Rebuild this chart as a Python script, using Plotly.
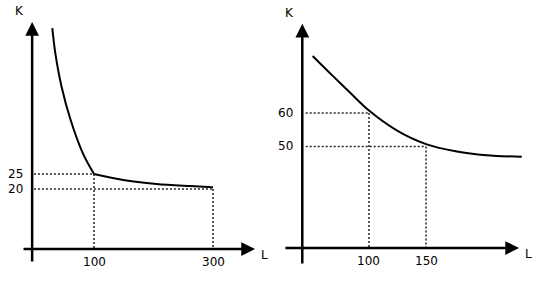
import plotly.graph_objects as go

# ---------------- data ----------------
# Left panel: kinked isoquant (L on x, K on y)
left_steep_L = [29.9, 35.0, 45.5, 60.7, 81.3, 100]
left_steep_K = [73.6, 65.2, 54.1, 43.0, 31.9, 25.0]
left_flat_L = [100, 149, 205, 261, 300]
left_flat_K = [25.0, 23.0, 21.7, 21.0, 20.6]
left_guide_L = [100, 300]
left_guide_K = [25, 20]
left_tick_L_text = ["100", "300"]
left_tick_K_text = ["25", "20"]

# Right panel: smooth isoquant
right_L = [50.6, 68.7, 83.3, 100, 124.3, 150, 177, 203, 234]
right_K = [77.0, 70.9, 66.1, 60.7, 54.8, 50.7, 48.5, 47.4, 46.9]
right_guide_L = [100, 150]
right_guide_K = [60, 50]
right_tick_L_text = ["100", "150"]
right_tick_K_text = ["60", "50"]

axis_title_x = "L"
axis_title_y = "K"

# ---------------- layout geometry ----------------
panels = [
    dict(xa="x", ya="y", origin=(-4.0, 0.0), xext=(-21.0, 370.6), yext=(-4.7, 75.7),
         xrange=[-58.0, 398.3], yrange=[-12.0, 83.0], dom=[0.0, 0.5]),
    dict(xa="x2", ya="y2", origin=(41.5, 19.7), xext=(25.4, 231.6), yext=(14.6, 86.6),
         xrange=[14.5, 252.6], yrange=[8.66, 93.7], dom=[0.5, 1.0]),
]

FONT = dict(family="DejaVu Sans", size=12, color="black")
DOT = "2px,2px"

fig = go.Figure()
annotations = []

def add_panel(p, curves, gL, gK, tL, tK):
    xa, ya = p["xa"], p["ya"]
    oL, oK = p["origin"]
    for cL, cK in curves:
        fig.add_trace(go.Scatter(x=cL, y=cK, mode="lines", xaxis=xa, yaxis=ya,
                                 line=dict(color="black", width=2, shape="spline", smoothing=0.9),
                                 hoverinfo="skip", showlegend=False))
    for L, K in zip(gL, gK):
        fig.add_trace(go.Scatter(x=[oL + 3, L], y=[K, K], mode="lines", xaxis=xa, yaxis=ya,
                                 line=dict(color="#222", width=1.5, dash=DOT),
                                 hoverinfo="skip", showlegend=False))
        fig.add_trace(go.Scatter(x=[L, L], y=[K, oK], mode="lines", xaxis=xa, yaxis=ya,
                                 line=dict(color="#222", width=1.5, dash=DOT),
                                 hoverinfo="skip", showlegend=False))
    for L, txt in zip(gL, tL):
        annotations.append(dict(x=L, y=oK, xref=xa, yref=ya, text=txt, showarrow=False,
                                xanchor="center", yanchor="top", yshift=-4, font=FONT))
    for K, txt in zip(gK, tK):
        annotations.append(dict(x=oL, y=K, xref=xa, yref=ya, text=txt, showarrow=False,
                                xanchor="right", yanchor="middle", xshift=-7, font=FONT))
    annotations.append(dict(x=p["xext"][1], y=oK, ax=p["xext"][0], ay=oK, xref=xa, yref=ya,
                            axref=xa, ayref=ya, text="", showarrow=True, arrowhead=2,
                            arrowsize=1.1, arrowwidth=2.5, arrowcolor="black"))
    annotations.append(dict(x=oL, y=p["yext"][1], ax=oL, ay=p["yext"][0], xref=xa, yref=ya,
                            axref=xa, ayref=ya, text="", showarrow=True, arrowhead=2,
                            arrowsize=1.1, arrowwidth=2.5, arrowcolor="black"))
    annotations.append(dict(x=p["xext"][1], y=oK, xref=xa, yref=ya, text=axis_title_x,
                            showarrow=False, xanchor="left", yanchor="middle",
                            xshift=4, yshift=-6, font=FONT))
    annotations.append(dict(x=oL, y=p["yext"][1], xref=xa, yref=ya, text=axis_title_y,
                            showarrow=False, xanchor="right", yanchor="bottom",
                            xshift=-6, yshift=2, font=FONT))

add_panel(panels[0], [(left_steep_L, left_steep_K), (left_flat_L, left_flat_K)],
          left_guide_L, left_guide_K, left_tick_L_text, left_tick_K_text)
add_panel(panels[1], [(right_L, right_K)],
          right_guide_L, right_guide_K, right_tick_L_text, right_tick_K_text)

ax_common = dict(visible=False, showgrid=False, zeroline=False, fixedrange=True)
fig.update_layout(
    width=543, height=285,
    margin=dict(l=0, r=0, t=0, b=0),
    paper_bgcolor="white", plot_bgcolor="white",
    xaxis=dict(domain=panels[0]["dom"], range=panels[0]["xrange"], **ax_common),
    yaxis=dict(domain=[0, 1], range=panels[0]["yrange"], **ax_common),
    xaxis2=dict(domain=panels[1]["dom"], range=panels[1]["xrange"], anchor="y2", **ax_common),
    yaxis2=dict(domain=[0, 1], range=panels[1]["yrange"], anchor="x2", **ax_common),
    annotations=annotations,
    showlegend=False,
)

fig.write_html("out.html")
